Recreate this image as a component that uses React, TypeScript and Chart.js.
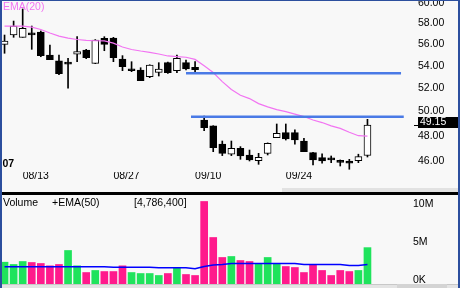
import React, { useEffect, useRef } from 'react';
import { Chart, registerables } from 'chart.js';
Chart.register(...registerables);

// ---------- data ----------
const dateLabels = ['08/13', '08/27', '09/10', '09/24'];
const dateIndex = [2, 12, 21, 31];
const yearLabel = "'07";

const opens = [56.30, 57.19, 56.97, 57.25, 57.48, 55.30, 54.75, 54.60, 55.37, 55.77, 54.53, 56.88, 56.90, 54.93, 53.99, 53.92, 53.32, 53.71, 54.59, 53.86, 54.59, 54.17, 49.57, 49.08, 47.61, 46.80, 47.27, 46.74, 46.29, 46.87, 48.12, 48.53, 48.53, 47.85, 46.92, 46.53, 46.48, 46.18, 46.27, 46.29, 46.70];
const highs = [57.19, 58.55, 59.75, 58.06, 57.58, 56.24, 55.30, 54.99, 57.03, 55.83, 56.75, 57.03, 56.97, 55.24, 54.68, 54.13, 54.40, 54.59, 54.65, 55.30, 54.84, 54.68, 49.91, 49.10, 47.85, 47.85, 47.40, 47.13, 46.87, 47.70, 49.24, 49.24, 48.75, 48.07, 46.95, 46.82, 46.66, 46.35, 46.40, 46.80, 49.63];
const lows = [55.46, 56.97, 56.97, 55.83, 55.14, 54.87, 53.50, 52.29, 54.68, 54.96, 54.50, 55.70, 54.68, 53.86, 53.77, 52.96, 53.23, 53.38, 53.62, 53.68, 53.92, 53.62, 48.69, 47.00, 46.69, 46.69, 46.40, 46.27, 46.01, 46.74, 48.12, 47.93, 47.59, 47.00, 45.96, 46.09, 46.14, 45.88, 45.63, 46.14, 46.58];
const closes = [56.62, 58.06, 57.84, 57.20, 55.24, 54.87, 53.59, 54.45, 55.61, 55.05, 56.71, 56.30, 55.05, 54.22, 53.85, 52.96, 54.38, 54.01, 53.68, 54.99, 54.01, 53.95, 48.94, 47.32, 46.87, 47.27, 46.66, 46.35, 46.56, 47.67, 48.48, 48.01, 47.93, 47.00, 46.35, 46.27, 46.35, 46.16, 46.09, 46.61, 49.15];
const ema20 = [58.06, 58.06, 58.06, 57.96, 57.72, 57.38, 57.09, 56.90, 56.76, 56.68, 56.64, 56.62, 56.42, 56.05, 55.81, 55.67, 55.55, 55.39, 55.21, 55.14, 55.09, 54.89, 54.30, 53.69, 52.88, 52.18, 51.68, 51.39, 50.96, 50.68, 50.45, 50.28, 50.07, 49.86, 49.57, 49.36, 49.08, 48.88, 48.56, 48.28, 48.25];

const volumesM = [2.87, 2.57, 2.96, 2.83, 2.70, 2.39, 2.57, 4.41, 2.39, 1.51, 1.78, 1.64, 1.64, 2.39, 1.51, 1.38, 1.38, 1.12, 1.38, 2.13, 1.25, 1.12, 10.86, 6.12, 3.49, 3.62, 3.09, 2.96, 2.70, 3.49, 2.70, 2.30, 2.17, 1.51, 2.57, 1.78, 1.12, 1.78, 1.64, 1.78, 4.7864];
const volumeUp = [1, 1, 1, 0, 0, 0, 0, 1, 1, 0, 1, 0, 0, 0, 1, 1, 1, 1, 0, 1, 0, 0, 0, 0, 0, 1, 0, 0, 1, 1, 1, 0, 0, 0, 0, 0, 0, 0, 0, 1, 1];
const volumeEma50 = [2.26, 2.26, 2.26, 2.26, 2.26, 2.26, 2.26, 2.26, 2.26, 2.26, 2.26, 2.26, 2.21, 2.21, 2.21, 2.21, 2.21, 2.13, 2.13, 2.13, 2.13, 2.00, 2.30, 2.50, 2.57, 2.70, 2.70, 2.70, 2.70, 2.70, 2.70, 2.70, 2.70, 2.57, 2.57, 2.57, 2.57, 2.57, 2.43, 2.43, 2.57];

const levelPrices = [53.62, 49.85];
const levelFrom = [20, 20.55];
const levelTo = [43.7, 44.0];

const priceTicks = [46, 48, 50, 52, 54, 56, 58, 60];
const volumeTicks = [0, 5, 10];
const volumeTickLabels = ['0K', '5M', '10M'];
const lastPrice = 49.15;
const volumeTitle = 'Volume';
const volumeEmaTitle = '+EMA(50)';
const lastVolumeText = '[4,786,400]';
const emaTitle = 'EMA(20)';

// ---------- styles ----------
const FONT = '"Liberation Sans", Arial, sans-serif';
const BG = '#f8f8f8';
const EMA_COLOR = '#f274f2';
const LEVEL_COLOR = '#4a7ae6';
const UP_VOL = '#1fe35c';
const DOWN_VOL = '#ff1a8c';
const VOL_EMA = '#0000ff';
const PRICE_MIN = 45.42;
const PRICE_MAX = 60.66;
const VOL_MAX = 11.58;
const AXIS_W = 86;

const idx = opens.map((_, i) => i);

export default function App() {
  const priceRef = useRef<HTMLCanvasElement | null>(null);
  const volRef = useRef<HTMLCanvasElement | null>(null);

  useEffect(() => {
    const priceOverlay = {
      id: 'priceOverlay',
      afterDraw(chart: any) {
        const ctx = chart.ctx;
        const ys = chart.scales.y;
        const area = chart.chartArea;
        ctx.save();
        ctx.font = `10.5px ${FONT}`;
        ctx.textBaseline = 'alphabetic';
        ctx.textAlign = 'left';
        ctx.fillStyle = EMA_COLOR;
        ctx.fillText(emaTitle, 3, 10);
        ctx.fillStyle = '#000';
        ctx.font = `bold 10.5px ${FONT}`;
        ctx.fillText(yearLabel, 0, 166.5);
        const py = Math.round(ys.getPixelForValue(lastPrice));
        ctx.fillStyle = '#000';
        ctx.fillRect(area.right + 42, py, 5, 1);
        ctx.fillRect(area.right + 46, py - 8, 40, 11);
        ctx.fillStyle = '#fff';
        ctx.font = `10.5px ${FONT}`;
        ctx.textBaseline = 'middle';
        ctx.fillText(lastPrice.toFixed(2), area.right + 48, py - 2.5);
        ctx.restore();
      },
    };

    const price = new Chart(priceRef.current as HTMLCanvasElement, {
      type: 'bar',
      data: {
        datasets: [
          ...levelPrices.map((p, k) => ({
            type: 'line' as const,
            data: [{ x: levelFrom[k], y: p }, { x: levelTo[k], y: p }],
            borderColor: LEVEL_COLOR,
            borderWidth: 2.5,
            pointRadius: 0,
            clip: false as any,
          })),
          {
            type: 'line' as const,
            data: idx.map((i) => ({ x: i, y: ema20[i] })),
            borderColor: EMA_COLOR,
            borderWidth: 1.2,
            pointRadius: 0,
            tension: 0,
          },
          {
            type: 'bar' as const,
            data: idx.map((i) => ({ x: i, y: [opens[i], closes[i]] })) as any,
            backgroundColor: idx.map((i) => (closes[i] > opens[i] ? '#ffffff' : '#000000')),
            borderColor: '#000000',
            borderWidth: 1,
            borderSkipped: false,
            barThickness: 7,
            minBarLength: 2,
            grouped: false,
          },
          {
            type: 'bar' as const,
            data: idx.map((i) => ({ x: i, y: [lows[i], highs[i]] })) as any,
            backgroundColor: '#000000',
            borderWidth: 0,
            barThickness: 1,
            grouped: false,
          },
        ],
      },
      options: {
        animation: false,
        responsive: false,
        maintainAspectRatio: false,
        devicePixelRatio: 1,
        events: [],
        layout: { padding: 0 },
        plugins: { legend: { display: false }, tooltip: { enabled: false } },
        scales: {
          x: {
            type: 'linear',
            min: -0.5,
            max: 40.5,
            offset: false,
            grid: { display: false, drawTicks: false },
            border: { display: false },
            afterBuildTicks: (s: any) => {
              s.ticks = dateIndex.map((v) => ({ value: v }));
            },
            afterFit: (s: any) => {
              s.height = 20;
              s.paddingLeft = 0;
              s.paddingRight = 0;
            },
            ticks: {
              align: 'start',
              padding: -2,
              autoSkip: false,
              maxRotation: 0,
              minRotation: 0,
              color: '#000',
              font: { family: FONT, size: 10.5 },
              callback: (v: any) => {
                const k = dateIndex.indexOf(Number(v));
                return k >= 0 ? dateLabels[k] : '';
              },
            },
          },
          y: {
            type: 'logarithmic',
            position: 'right',
            min: PRICE_MIN,
            max: PRICE_MAX,
            beginAtZero: false,
            grid: { display: false, drawTicks: false },
            border: { display: false },
            afterBuildTicks: (s: any) => {
              s.ticks = priceTicks.map((v) => ({ value: v }));
            },
            afterFit: (s: any) => {
              s.width = AXIS_W;
              s.paddingTop = 0;
              s.paddingBottom = 0;
            },
            ticks: {
              padding: 46,
              labelOffset: -3.5,
              color: '#000',
              font: { family: FONT, size: 10.5 },
              callback: (v: any) => Number(v).toFixed(2),
            },
          },
        },
      } as any,
      plugins: [priceOverlay],
    });

    const volOverlay = {
      id: 'volOverlay',
      afterDraw(chart: any) {
        const ctx = chart.ctx;
        ctx.save();
        ctx.font = `10.5px ${FONT}`;
        ctx.fillStyle = '#000';
        ctx.textBaseline = 'alphabetic';
        ctx.fillText(volumeTitle, 3, 10);
        ctx.fillText(volumeEmaTitle, 52, 10);
        ctx.fillText(lastVolumeText, 134, 10);
        ctx.restore();
      },
    };

    const vol = new Chart(volRef.current as HTMLCanvasElement, {
      type: 'bar',
      data: {
        datasets: [
          {
            type: 'line' as const,
            data: idx.map((i) => ({ x: i, y: volumeEma50[i] })),
            borderColor: VOL_EMA,
            borderWidth: 1.5,
            pointRadius: 0,
            tension: 0,
          },
          {
            type: 'bar' as const,
            data: idx.map((i) => ({ x: i, y: volumesM[i] })),
            backgroundColor: idx.map((i) => (volumeUp[i] ? UP_VOL : DOWN_VOL)),
            borderWidth: 0,
            barThickness: 7,
            grouped: false,
          },
        ],
      },
      options: {
        animation: false,
        responsive: false,
        maintainAspectRatio: false,
        devicePixelRatio: 1,
        events: [],
        layout: { padding: 0 },
        plugins: { legend: { display: false }, tooltip: { enabled: false } },
        scales: {
          x: { type: 'linear', min: -0.5, max: 40.5, offset: false, display: false },
          y: {
            type: 'linear',
            position: 'right',
            min: 0,
            max: VOL_MAX,
            grid: { display: false, drawTicks: false },
            border: { display: false },
            afterBuildTicks: (s: any) => {
              s.ticks = volumeTicks.map((v) => ({ value: v }));
            },
            afterFit: (s: any) => {
              s.width = AXIS_W;
              s.paddingTop = 0;
              s.paddingBottom = 0;
            },
            ticks: {
              padding: 41,
              labelOffset: -3.5,
              color: '#000',
              font: { family: FONT, size: 10.5 },
              callback: (v: any) => {
                const k = volumeTicks.indexOf(Number(v));
                return k >= 0 ? volumeTickLabels[k] : '';
              },
            },
          },
        },
      } as any,
      plugins: [volOverlay],
    });

    return () => {
      price.destroy();
      vol.destroy();
    };
  }, []);

  const abs = (l: number, t: number, w: number, h: number, bg: string): React.CSSProperties => ({
    position: 'absolute', left: l, top: t, width: w, height: h, background: bg,
  });

  return (
    <div style={{ position: 'absolute', left: 0, top: 0, width: 460, height: 288, background: BG, overflow: 'hidden' }}>
      <canvas ref={priceRef} width={458} height={192} style={{ position: 'absolute', left: 0, top: 0, display: 'block' }} />
      <canvas ref={volRef} width={458} height={88} style={{ position: 'absolute', left: 0, top: 196, display: 'block' }} />
      <div style={abs(282, 188, 176, 4, '#e2e2e2')} />
      <div style={abs(0, 192, 458, 3, '#000')} />
      <div style={abs(0, 284, 460, 4, '#e4e4e4')} />
      <div style={abs(0, 284, 460, 1, '#c8c8c8')} />
      <div style={abs(397, 284, 50, 4, '#d4d4d4')} />
      <div style={abs(0, 0, 460, 1, '#2c4f9e')} />
      <div style={abs(0, 0, 2, 288, '#2c4f9e')} />
      <div style={abs(458, 0, 2, 288, '#2c4f9e')} />
    </div>
  );
}
